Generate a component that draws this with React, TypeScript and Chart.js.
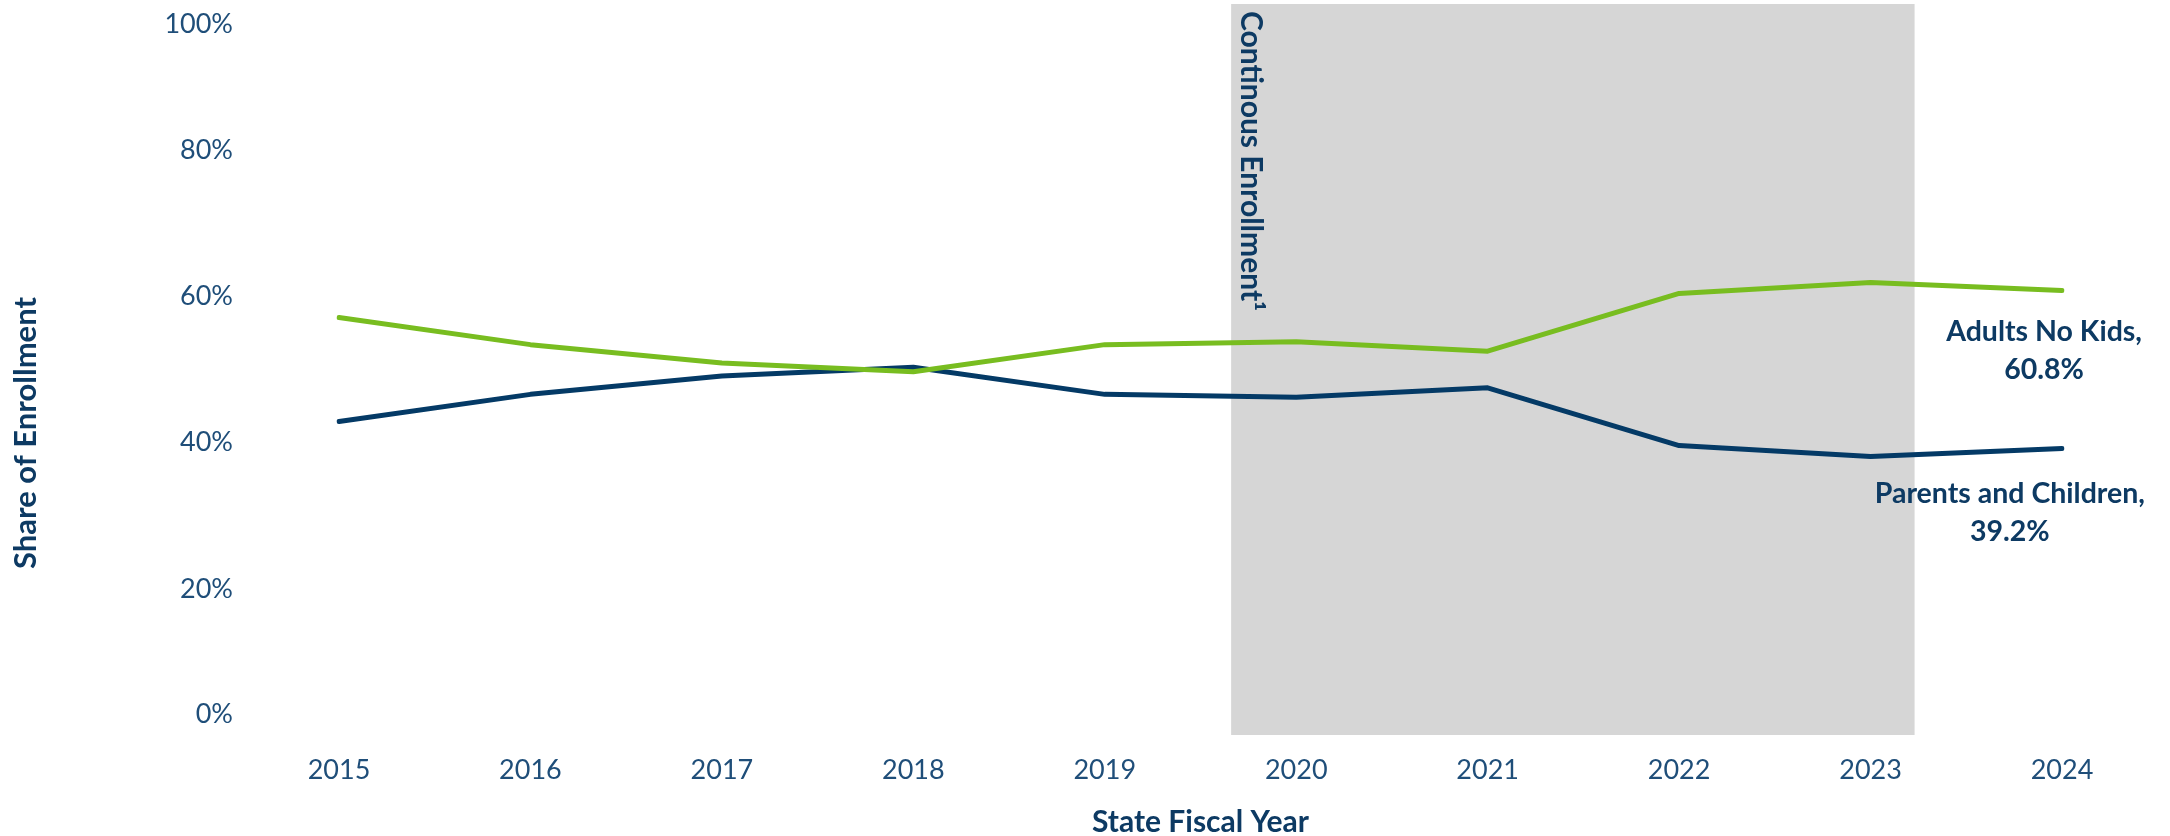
import React, { useEffect, useRef } from "react";
import { Chart, registerables } from "chart.js";

Chart.register(...registerables);

// ---- Data ----
const YEARS = ["2015", "2016", "2017", "2018", "2019", "2020", "2021", "2022", "2023", "2024"];
const ADULTS_NO_KIDS = [57.1, 53.4, 50.9, 49.7, 53.4, 53.8, 52.5, 60.4, 61.9, 60.8];
const PARENTS_AND_CHILDREN = [42.9, 46.6, 49.1, 50.3, 46.6, 46.2, 47.5, 39.6, 38.1, 39.2];
const SERIES_NAMES = ["Adults No Kids", "Parents and Children"];
const Y_TICKS = [0, 20, 40, 60, 80, 100];
const SHADE_RANGE = [4.66, 8.23]; // in category-index units (mid 2019 to early 2023)
const SHADE_LABEL = "Continous Enrollment\u00B9";
const X_TITLE = "State Fiscal Year";
const Y_TITLE = "Share of Enrollment";

// ---- Styles ----
const GREEN = "#78bd20";
const NAVY = "#043a66";
const TICK_COLOR = "#1f4e79";
const TITLE_COLOR = "#0d3a63";
const SHADE_COLOR = "#d6d6d6";
const FONT = "Lato, 'Open Sans', sans-serif";

const overlayPlugin = {
  id: "overlay",
  beforeDatasetsDraw(chart: any) {
    const { ctx, chartArea, scales } = chart;
    const xs = scales.x;
    const x0 = xs.getPixelForValue(SHADE_RANGE[0]);
    const x1 = xs.getPixelForValue(SHADE_RANGE[1]);
    ctx.save();
    ctx.fillStyle = SHADE_COLOR;
    ctx.fillRect(x0, chartArea.top, x1 - x0, chartArea.bottom - chartArea.top);
    ctx.translate(x0 + 20, chartArea.top + 7);
    ctx.rotate(Math.PI / 2);
    ctx.font = `bold 30px ${FONT}`;
    ctx.fillStyle = TITLE_COLOR;
    ctx.textAlign = "left";
    ctx.textBaseline = "middle";
    ctx.fillText(SHADE_LABEL, 0, 0);
    ctx.restore();
  },
  afterDatasetsDraw(chart: any) {
    const { ctx } = chart;
    const offsets = [
      { dx: 80, dy: 41 },
      { dx: 83, dy: 45 },
    ];
    ctx.save();
    ctx.font = `bold 28.5px ${FONT}`;
    ctx.fillStyle = TITLE_COLOR;
    ctx.textAlign = "center";
    ctx.textBaseline = "middle";
    chart.data.datasets.forEach((ds: any, i: number) => {
      const meta = chart.getDatasetMeta(i);
      const pt = meta.data[meta.data.length - 1];
      const v = ds.data[ds.data.length - 1];
      const line1 = `${ds.label},`;
      const line2 = `${v.toFixed(1)}%`;
      const w = ctx.measureText(line1).width;
      const right = pt.x + offsets[i].dx;
      const cx = right - w / 2;
      const y = pt.y + offsets[i].dy;
      ctx.fillText(line1, cx, y);
      ctx.fillText(line2, cx, y + 38);
    });
    // y-axis title
    ctx.translate(26, 433);
    ctx.rotate(-Math.PI / 2);
    ctx.font = `bold 31px ${FONT}`;
    ctx.fillText(Y_TITLE, 0, 0);
    ctx.restore();
  },
};

export default function App() {
  const canvasRef = useRef<HTMLCanvasElement | null>(null);

  useEffect(() => {
    const canvas = canvasRef.current;
    if (!canvas) return;
    const chart = new Chart(canvas, {
      type: "line",
      data: {
        labels: YEARS,
        datasets: [
          {
            label: SERIES_NAMES[0],
            data: ADULTS_NO_KIDS,
            borderColor: GREEN,
            backgroundColor: GREEN,
            borderWidth: 5,
            pointRadius: 0,
            tension: 0,
            borderCapStyle: "round",
            borderJoinStyle: "round",
          },
          {
            label: SERIES_NAMES[1],
            data: PARENTS_AND_CHILDREN,
            borderColor: NAVY,
            backgroundColor: NAVY,
            borderWidth: 5,
            pointRadius: 0,
            tension: 0,
            borderCapStyle: "round",
            borderJoinStyle: "round",
          },
        ],
      },
      options: {
        animation: false,
        responsive: false,
        maintainAspectRatio: false,
        layout: { padding: { left: 0, right: 108, top: 4, bottom: 0 } },
        plugins: {
          legend: { display: false },
          tooltip: { enabled: false },
        },
        scales: {
          x: {
            type: "category",
            offset: false,
            grid: { display: false, drawTicks: false },
            border: { display: false },
            ticks: {
              color: TICK_COLOR,
              font: { family: FONT, size: 27, lineHeight: 1.2 },
              padding: 19,
              maxRotation: 0,
              autoSkip: false,
            },
            title: {
              display: true,
              text: X_TITLE,
              color: TITLE_COLOR,
              font: { family: FONT, size: 30, weight: "bold", lineHeight: 0.9 },
              padding: { top: 0, bottom: 0 },
            },
            afterFit(scale: any) {
              scale.height = 101;
              scale.paddingLeft = 0;
              scale.paddingRight = 0;
            },
          },
          y: {
            min: 0,
            max: 100,
            grid: { display: false, drawTicks: false },
            border: { display: false },
            afterBuildTicks(scale: any) {
              scale.ticks = Y_TICKS.map((v) => ({ value: v }));
            },
            ticks: {
              color: TICK_COLOR,
              font: { family: FONT, size: 27, lineHeight: 1.5 },
              padding: 106,
              callback(value: any) {
                const t = `${value}%`;
                if (value === 100) return ["", t];
                if (value === 0) return [t, ""];
                return t;
              },
            },
            afterFit(scale: any) {
              scale.width = 339;
              scale.paddingTop = 0;
              scale.paddingBottom = 0;
            },
          },
        },
      },
      plugins: [overlayPlugin],
    } as any);
    return () => chart.destroy();
  }, []);

  return (
    <div style={{ position: "absolute", left: 0, top: 0, width: 2170, height: 836, background: "#ffffff" }}>
      <canvas ref={canvasRef} width={2170} height={836} style={{ display: "block" }} />
    </div>
  );
}
